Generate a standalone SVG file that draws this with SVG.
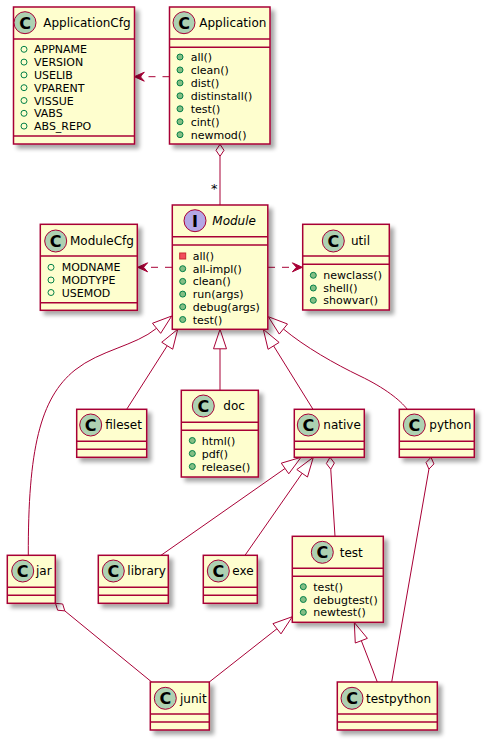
<svg xmlns="http://www.w3.org/2000/svg" width="487" height="743" viewBox="0 0 487 743">
<defs>
<filter id="sh" x="-20%" y="-20%" width="150%" height="150%">
<feGaussianBlur in="SourceAlpha" stdDeviation="2"/>
<feOffset dx="4" dy="4" result="b"/>
<feComponentTransfer><feFuncA type="linear" slope="0.35"/></feComponentTransfer>
<feMerge><feMergeNode/><feMergeNode in="SourceGraphic"/></feMerge>
</filter>
</defs>
<style>
.box{fill:#FEFECE;stroke:#A80036;stroke-width:1.5;filter:url(#sh)}
.sep{stroke:#A80036;stroke-width:1.5}
.circ{fill:#ADD1B2;stroke:#A80036;stroke-width:1}
.icirc{fill:#B4A7E5;stroke:#A80036;stroke-width:1}
.glyph{font-family:"DejaVu Sans",sans-serif;font-weight:bold;font-size:16px;text-anchor:middle;fill:#000}
.name{font-family:"DejaVu Sans",sans-serif;font-size:12px;fill:#000}
.mem{font-family:"DejaVu Sans",sans-serif;font-size:11px;fill:#000}
.pa{fill:none;stroke:#038048;stroke-width:1}
.pm{fill:#84BE84;stroke:#038048;stroke-width:1}
.pv{fill:#F24D5C;stroke:#C82930;stroke-width:1}
.edge{fill:none;stroke:#A80036;stroke-width:1}
.dash{stroke-dasharray:7,7}
.head{fill:#A80036;stroke:#A80036;stroke-width:1}
.hollow{fill:#FFFFFF;stroke:#A80036;stroke-width:1}
.lbl{font-family:"DejaVu Sans",sans-serif;font-size:13px;fill:#000}
</style>
<rect width="487" height="743" fill="#FFFFFF"/>

<g id="connectors">
<line class="edge dash" x1="169.5" y1="76.7" x2="140" y2="76.7"/>
<polygon class="head" points="134.3,76.7 144.3,72.2 140.3,76.7 144.3,81.2"/>
<line class="edge dash" x1="172" y1="267.3" x2="143" y2="267.3"/>
<polygon class="head" points="137.6,267.3 147.6,262.8 143.6,267.3 147.6,271.8"/>
<line class="edge dash" x1="268" y1="267.3" x2="297" y2="267.3"/>
<polygon class="head" points="302.4,267.3 292.4,262.8 296.4,267.3 292.4,271.8"/>
<line class="edge" x1="220" y1="156.3" x2="220" y2="205"/>
<polygon class="hollow" points="220,144.3 224,150.3 220,156.3 216,150.3"/>
<text class="lbl" x="211" y="193">*</text>
<path class="edge" d="M156.6,328.3 C135,346 100,350 75,370 C40,398 28,450 28.3,555.3"/>
<polygon class="hollow" points="171.7,316 160.68,333.35 152.48,323.27"/>
<line class="edge" x1="126.7" y1="409.3" x2="167.22" y2="345.74"/>
<polygon class="hollow" points="177.7,329.3 172.7,349.23 161.74,342.25"/>
<line class="edge" x1="220" y1="390.3" x2="220" y2="348.8"/>
<polygon class="hollow" points="220,329.3 226.5,348.8 213.5,348.8"/>
<line class="edge" x1="313" y1="409.3" x2="273.59" y2="345.86"/>
<polygon class="hollow" points="263.3,329.3 279.11,342.43 268.07,349.29"/>
<path class="edge" d="M283.4,329 C305,347 335,364 360,376 C385,388 400,400 407.3,409.3"/>
<polygon class="hollow" points="268.3,316.7 287.51,324.01 279.29,334.07"/>
<line class="edge" x1="161" y1="555.3" x2="285.03" y2="468.48"/>
<polygon class="hollow" points="301,457.3 288.76,473.8 281.3,463.16"/>
<line class="edge" x1="245" y1="555.3" x2="302.15" y2="473.3"/>
<polygon class="hollow" points="313.3,457.3 307.48,477.02 296.82,469.58"/>
<line class="edge" x1="330.76" y1="469.28" x2="335" y2="536.3"/>
<polygon class="hollow" points="330,457.3 334.37,463.04 330.76,469.28 326.39,463.54"/>
<line class="edge" x1="428.93" y1="469.12" x2="391.7" y2="682"/>
<polygon class="hollow" points="431,457.3 433.91,463.9 428.93,469.12 426.03,462.52"/>
<line class="edge" x1="64.8" y1="610.89" x2="151.7" y2="682"/>
<polygon class="hollow" points="55.5,603.3 62.68,603.99 64.8,610.89 57.62,610.19"/>
<line class="edge" x1="209.3" y1="682" x2="276.97" y2="628.76"/>
<polygon class="hollow" points="292.3,616.7 280.99,633.87 272.95,623.65"/>
<line class="edge" x1="377.3" y1="682" x2="361.33" y2="640.69"/>
<polygon class="hollow" points="354.3,622.5 367.39,638.35 355.27,643.03"/>
</g>

<g id="ApplicationCfg">
<rect class="box" x="13.5" y="7" width="121" height="137"/>
<line class="sep" x1="13.5" y1="39" x2="134.5" y2="39"/>
<line class="sep" x1="13.5" y1="136" x2="134.5" y2="136"/>
<circle class="circ" cx="25" cy="22.7" r="11"/>
<text class="glyph" x="25" y="28.5">C</text>
<text class="name" x="43.3" y="27">ApplicationCfg</text>
<circle class="pa" cx="24" cy="49.3" r="3"/><text class="mem" x="34" y="53.3">APPNAME</text>
<circle class="pa" cx="24" cy="62.1" r="3"/><text class="mem" x="34" y="66.1">VERSION</text>
<circle class="pa" cx="24" cy="74.9" r="3"/><text class="mem" x="34" y="78.9">USELIB</text>
<circle class="pa" cx="24" cy="87.7" r="3"/><text class="mem" x="34" y="91.7">VPARENT</text>
<circle class="pa" cx="24" cy="100.5" r="3"/><text class="mem" x="34" y="104.5">VISSUE</text>
<circle class="pa" cx="24" cy="113.3" r="3"/><text class="mem" x="34" y="117.3">VABS</text>
<circle class="pa" cx="24" cy="126.1" r="3"/><text class="mem" x="34" y="130.1">ABS_REPO</text>
</g>

<g id="Application">
<rect class="box" x="169.5" y="7" width="100.5" height="137"/>
<line class="sep" x1="169.5" y1="39" x2="270" y2="39"/>
<line class="sep" x1="169.5" y1="47.3" x2="270" y2="47.3"/>
<circle class="circ" cx="184" cy="22.7" r="11"/>
<text class="glyph" x="184" y="28.5">C</text>
<text class="name" x="199.3" y="27">Application</text>
<circle class="pm" cx="180" cy="57" r="3"/><text class="mem" x="190.7" y="61">all()</text>
<circle class="pm" cx="180" cy="69.95" r="3"/><text class="mem" x="190.7" y="73.95">clean()</text>
<circle class="pm" cx="180" cy="82.9" r="3"/><text class="mem" x="190.7" y="86.9">dist()</text>
<circle class="pm" cx="180" cy="95.85" r="3"/><text class="mem" x="190.7" y="99.85">distinstall()</text>
<circle class="pm" cx="180" cy="108.8" r="3"/><text class="mem" x="190.7" y="112.8">test()</text>
<circle class="pm" cx="180" cy="121.75" r="3"/><text class="mem" x="190.7" y="125.75">cint()</text>
<circle class="pm" cx="180" cy="134.7" r="3"/><text class="mem" x="190.7" y="138.7">newmod()</text>
</g>

<g id="Module">
<rect class="box" x="172.3" y="205" width="95.5" height="124.3"/>
<line class="sep" x1="172.3" y1="236.7" x2="267.8" y2="236.7"/>
<line class="sep" x1="172.3" y1="245" x2="267.8" y2="245"/>
<circle class="icirc" cx="195" cy="220.7" r="11"/>
<text class="glyph" x="195" y="226.5">I</text>
<text class="name" x="212.3" y="225" font-style="italic">Module</text>
<rect class="pv" x="179.7" y="253" width="6" height="6"/><text class="mem" x="192.7" y="260">all()</text>
<circle class="pm" cx="182.7" cy="268.7" r="3"/><text class="mem" x="192.7" y="272.7">all-impl()</text>
<circle class="pm" cx="182.7" cy="281.4" r="3"/><text class="mem" x="192.7" y="285.4">clean()</text>
<circle class="pm" cx="182.7" cy="294.1" r="3"/><text class="mem" x="192.7" y="298.1">run(args)</text>
<circle class="pm" cx="182.7" cy="306.8" r="3"/><text class="mem" x="192.7" y="310.8">debug(args)</text>
<circle class="pm" cx="182.7" cy="319.5" r="3"/><text class="mem" x="192.7" y="323.5">test()</text>
</g>

<g id="ModuleCfg">
<rect class="box" x="40.3" y="224.3" width="97" height="86"/>
<line class="sep" x1="40.3" y1="256" x2="137.3" y2="256"/>
<line class="sep" x1="40.3" y1="302.7" x2="137.3" y2="302.7"/>
<circle class="circ" cx="55.7" cy="241" r="11"/>
<text class="glyph" x="55.7" y="246.8">C</text>
<text class="name" x="70" y="245.3">ModuleCfg</text>
<circle class="pa" cx="51" cy="267.3" r="3"/><text class="mem" x="61.7" y="271.3">MODNAME</text>
<circle class="pa" cx="51" cy="280" r="3"/><text class="mem" x="61.7" y="284">MODTYPE</text>
<circle class="pa" cx="51" cy="292.5" r="3"/><text class="mem" x="61.7" y="296.5">USEMOD</text>
</g>

<g id="util">
<rect class="box" x="302.7" y="224.3" width="86.6" height="85.7"/>
<line class="sep" x1="302.7" y1="256" x2="389.3" y2="256"/>
<line class="sep" x1="302.7" y1="264.3" x2="389.3" y2="264.3"/>
<circle class="circ" cx="333.3" cy="241" r="11"/>
<text class="glyph" x="333.3" y="246.8">C</text>
<text class="name" x="351" y="245.3">util</text>
<circle class="pm" cx="313.3" cy="275.3" r="3"/><text class="mem" x="323.3" y="279.3">newclass()</text>
<circle class="pm" cx="313.3" cy="288" r="3"/><text class="mem" x="323.3" y="292">shell()</text>
<circle class="pm" cx="313.3" cy="300.3" r="3"/><text class="mem" x="323.3" y="304.3">showvar()</text>
</g>

<g id="fileset">
<rect class="box" x="76.7" y="409.3" width="70" height="48"/>
<line class="sep" x1="76.7" y1="441.3" x2="146.7" y2="441.3"/>
<line class="sep" x1="76.7" y1="449.3" x2="146.7" y2="449.3"/>
<circle class="circ" cx="90.7" cy="425" r="11"/>
<text class="glyph" x="90.7" y="430.8">C</text>
<text class="name" x="105.3" y="429.3">fileset</text>
</g>

<g id="doc">
<rect class="box" x="181.3" y="390.3" width="77" height="86.7"/>
<line class="sep" x1="181.3" y1="422.3" x2="258.3" y2="422.3"/>
<line class="sep" x1="181.3" y1="430.3" x2="258.3" y2="430.3"/>
<circle class="circ" cx="203.3" cy="406" r="11"/>
<text class="glyph" x="203.3" y="411.8">C</text>
<text class="name" x="223.3" y="410.3">doc</text>
<circle class="pm" cx="192.3" cy="440.5" r="3"/><text class="mem" x="201.7" y="444.5">html()</text>
<circle class="pm" cx="192.3" cy="453.5" r="3"/><text class="mem" x="201.7" y="457.5">pdf()</text>
<circle class="pm" cx="192.3" cy="466.5" r="3"/><text class="mem" x="201.7" y="470.5">release()</text>
</g>

<g id="native">
<rect class="box" x="294.3" y="409.3" width="70" height="48"/>
<line class="sep" x1="294.3" y1="441.3" x2="364.3" y2="441.3"/>
<line class="sep" x1="294.3" y1="449.3" x2="364.3" y2="449.3"/>
<circle class="circ" cx="308.3" cy="425" r="11"/>
<text class="glyph" x="308.3" y="430.8">C</text>
<text class="name" x="323.3" y="429.3">native</text>
</g>

<g id="python">
<rect class="box" x="399.3" y="409.3" width="75" height="48"/>
<line class="sep" x1="399.3" y1="441.3" x2="474.3" y2="441.3"/>
<line class="sep" x1="399.3" y1="449.3" x2="474.3" y2="449.3"/>
<circle class="circ" cx="414.3" cy="425" r="11"/>
<text class="glyph" x="414.3" y="430.8">C</text>
<text class="name" x="429.3" y="429.3">python</text>
</g>

<g id="jar">
<rect class="box" x="7.3" y="555.3" width="48" height="48"/>
<line class="sep" x1="7.3" y1="587.3" x2="55.3" y2="587.3"/>
<line class="sep" x1="7.3" y1="595.3" x2="55.3" y2="595.3"/>
<circle class="circ" cx="22.7" cy="571" r="11"/>
<text class="glyph" x="22.7" y="576.8">C</text>
<text class="name" x="36" y="575.3">jar</text>
</g>

<g id="library">
<rect class="box" x="98.3" y="555.3" width="70" height="48"/>
<line class="sep" x1="98.3" y1="587.3" x2="168.3" y2="587.3"/>
<line class="sep" x1="98.3" y1="595.3" x2="168.3" y2="595.3"/>
<circle class="circ" cx="113.3" cy="571" r="11"/>
<text class="glyph" x="113.3" y="576.8">C</text>
<text class="name" x="127.3" y="575.3">library</text>
</g>

<g id="exe">
<rect class="box" x="203.3" y="555.3" width="54" height="48"/>
<line class="sep" x1="203.3" y1="587.3" x2="257.3" y2="587.3"/>
<line class="sep" x1="203.3" y1="595.3" x2="257.3" y2="595.3"/>
<circle class="circ" cx="218.3" cy="571" r="11"/>
<text class="glyph" x="218.3" y="576.8">C</text>
<text class="name" x="232.3" y="575.3">exe</text>
</g>

<g id="test">
<rect class="box" x="292.3" y="536.3" width="91" height="86"/>
<line class="sep" x1="292.3" y1="568.3" x2="383.3" y2="568.3"/>
<line class="sep" x1="292.3" y1="576.3" x2="383.3" y2="576.3"/>
<circle class="circ" cx="322.3" cy="552.3" r="11"/>
<text class="glyph" x="322.3" y="558.1">C</text>
<text class="name" x="339.7" y="556.6">test</text>
<circle class="pm" cx="303.3" cy="586.7" r="3"/><text class="mem" x="313.3" y="590.7">test()</text>
<circle class="pm" cx="303.3" cy="599.5" r="3"/><text class="mem" x="313.3" y="603.5">debugtest()</text>
<circle class="pm" cx="303.3" cy="612.3" r="3"/><text class="mem" x="313.3" y="616.3">newtest()</text>
</g>

<g id="junit">
<rect class="box" x="150.3" y="682" width="59" height="48"/>
<line class="sep" x1="150.3" y1="714" x2="209.3" y2="714"/>
<line class="sep" x1="150.3" y1="722" x2="209.3" y2="722"/>
<circle class="circ" cx="165.3" cy="698.3" r="11"/>
<text class="glyph" x="165.3" y="704.1">C</text>
<text class="name" x="180" y="702.6">junit</text>
</g>

<g id="testpython">
<rect class="box" x="337.3" y="682" width="100" height="48"/>
<line class="sep" x1="337.3" y1="714" x2="437.3" y2="714"/>
<line class="sep" x1="337.3" y1="722" x2="437.3" y2="722"/>
<circle class="circ" cx="352" cy="698.3" r="11"/>
<text class="glyph" x="352" y="704.1">C</text>
<text class="name" x="366" y="702.6">testpython</text>
</g>
</svg>
